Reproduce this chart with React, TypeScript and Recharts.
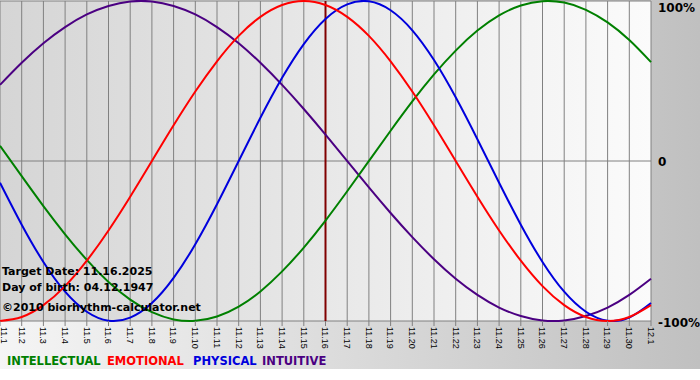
import React from "react";
import {
  LineChart,
  Line,
  XAxis,
  YAxis,
  CartesianGrid,
  ReferenceLine,
} from "recharts";

// one label per day, 1 Nov .. 1 Dec
const days = [
  "11.1", "11.2", "11.3", "11.4", "11.5", "11.6", "11.7", "11.8", "11.9", "11.10",
  "11.11", "11.12", "11.13", "11.14", "11.15", "11.16", "11.17", "11.18", "11.19", "11.20",
  "11.21", "11.22", "11.23", "11.24", "11.25", "11.26", "11.27", "11.28", "11.29", "11.30",
  "12.1",
];

// values in %
const physical = [
  -13.6, -39.8, -63.1, -81.7, -94.2, -99.8, -97.9, -88.8, -73.1, -52.0,
  -27.0, 0, 27.0, 52.0, 73.1, 88.8, 97.9, 99.8, 94.2, 81.7,
  63.1, 39.8, 13.6, -13.6, -39.8, -63.1, -81.7, -94.2, -99.8, -97.9,
  -88.8,
];
const emotional = [
  -100, -97.5, -90.1, -78.2, -62.3, -43.4, -22.3, 0, 22.3, 43.4,
  62.3, 78.2, 90.1, 97.5, 100, 97.5, 90.1, 78.2, 62.3, 43.4,
  22.3, 0, -22.3, -43.4, -62.3, -78.2, -90.1, -97.5, -100, -97.5,
  -90.1,
];
const intellectual = [
  9.5, -9.5, -28.2, -45.8, -61.8, -75.6, -86.6, -94.5, -99.0, -99.9,
  -97.2, -91.0, -81.5, -69.0, -54.1, -37.2, -18.9, 0, 18.9, 37.2,
  54.1, 69.0, 81.5, 91.0, 97.2, 99.9, 99.0, 94.5, 86.6, 75.6,
  61.8,
];
const intuitive = [
  47.6, 61.4, 73.6, 83.7, 91.6, 96.9, 99.7, 99.7, 96.9, 91.6,
  83.7, 73.6, 61.4, 47.6, 32.5, 16.5, 0, -16.5, -32.5, -47.6,
  -61.4, -73.6, -83.7, -91.6, -96.9, -99.7, -99.7, -96.9, -91.6, -83.7,
  -73.6,
];

const targetDay = "11.16";

const data = days.map((day, i) => ({
  day,
  physical: physical[i],
  emotional: emotional[i],
  intellectual: intellectual[i],
  intuitive: intuitive[i],
}));

const GREEN = "#008000";
const RED = "#ff0000";
const BLUE = "#0000dd";
const PURPLE = "#4b0082";

const boldFont = "'DejaVu Sans', Verdana, sans-serif";

function XTick(props: any) {
  const { x, y, payload } = props;
  // first label would sit half outside the svg
  const tx = Math.max(x, 4);
  return (
    <text
      x={tx}
      y={y}
      transform={`rotate(90, ${tx}, ${y})`}
      dy="0.35em"
      textAnchor="start"
      fontSize={9}
      fontFamily="'Liberation Sans', Arial, sans-serif"
      fill="#000"
    >
      {payload.value}
    </text>
  );
}

function YTick(props: any) {
  const { y, payload } = props;
  const v = payload.value;
  const label = v === 0 ? "0" : `${v}%`;
  const dy = v === 100 ? 3 : v === 0 ? 5 : 6;
  return (
    <text
      x={658}
      y={y + dy}
      textAnchor="start"
      fontSize={12}
      fontWeight="bold"
      fontFamily={boldFont}
      fill="#000"
    >
      {label}
    </text>
  );
}

const legend = [
  { label: "INTELLECTUAL", color: GREEN, left: 7 },
  { label: "EMOTIONAL", color: RED, left: 107 },
  { label: "PHYSICAL", color: BLUE, left: 193 },
  { label: "INTUITIVE", color: PURPLE, left: 262 },
];

const info = [
  { text: "Target Date: 11.16.2025", top: 265 },
  { text: "Day of birth: 04.12.1947", top: 281 },
  { text: "\u00a92010 biorhythm-calculator.net", top: 301 },
];

export default function App() {
  return (
    <div
      style={{
        position: "absolute",
        left: 0,
        top: 0,
        width: 700,
        height: 380,
        background: "#fff",
        overflow: "hidden",
      }}
    >
      <div
        style={{
          position: "absolute",
          left: 0,
          top: 0,
          width: 700,
          height: 369,
          background: "linear-gradient(to right, #f5f5f5, #c0c0c0)",
        }}
      />
      <div style={{ position: "absolute", left: 0, top: 0 }}>
        <LineChart
          width={700}
          height={380}
          data={data}
          margin={{ top: 1, right: 0, left: 0, bottom: 0 }}
        >
          <defs>
            <linearGradient id="plotBg" x1="0" y1="0" x2="1" y2="0">
              <stop offset="0%" stopColor="#d5d5d5" />
              <stop offset="100%" stopColor="#fbfbfb" />
            </linearGradient>
          </defs>
          <CartesianGrid
            stroke="#808080"
            fill="url(#plotBg)"
            fillOpacity={1}
          />
          <XAxis
            dataKey="day"
            height={59}
            interval={0}
            axisLine={false}
            tickSize={5}
            tickMargin={1}
            tickLine={{ stroke: "#808080" }}
            tick={<XTick />}
          />
          <YAxis
            orientation="right"
            width={49}
            domain={[-100, 100]}
            ticks={[-100, 0, 100]}
            axisLine={false}
            tickLine={false}
            tick={<YTick />}
          />
          <ReferenceLine x={targetDay} stroke="#800000" strokeWidth={2} />
          <Line type="natural" dataKey="intuitive" stroke={PURPLE} strokeWidth={2} dot={false} isAnimationActive={false} />
          <Line type="natural" dataKey="intellectual" stroke={GREEN} strokeWidth={2} dot={false} isAnimationActive={false} />
          <Line type="natural" dataKey="physical" stroke={BLUE} strokeWidth={2} dot={false} isAnimationActive={false} />
          <Line type="natural" dataKey="emotional" stroke={RED} strokeWidth={2} dot={false} isAnimationActive={false} />
        </LineChart>
      </div>
      {info.map((t) => (
        <div
          key={t.text}
          style={{
            position: "absolute",
            left: 2,
            top: t.top,
            fontFamily: boldFont,
            fontWeight: "bold",
            fontSize: 11,
            color: "#000",
            whiteSpace: "nowrap",
            lineHeight: "14px",
          }}
        >
          {t.text}
        </div>
      ))}
      {legend.map((l) => (
        <div
          key={l.label}
          style={{
            position: "absolute",
            left: l.left,
            top: 354,
            fontFamily: boldFont,
            fontWeight: "bold",
            fontSize: 11.5,
            color: l.color,
            whiteSpace: "nowrap",
            lineHeight: "14px",
          }}
        >
          {l.label}
        </div>
      ))}
    </div>
  );
}
